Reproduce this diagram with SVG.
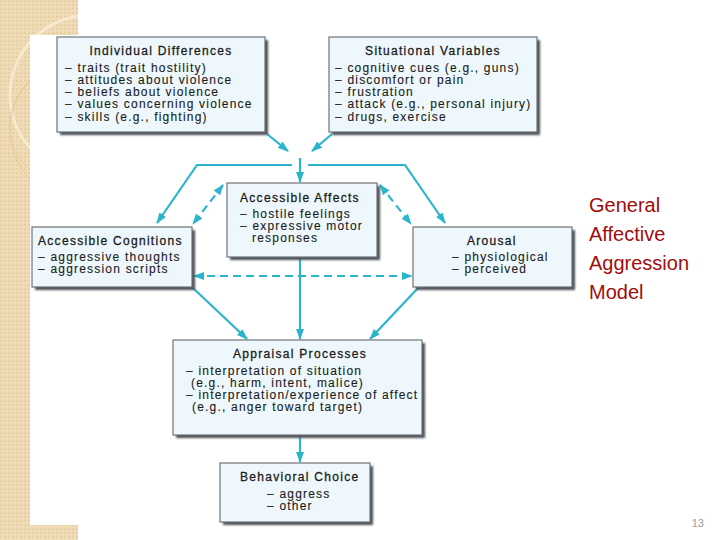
<svg xmlns="http://www.w3.org/2000/svg" width="720" height="540" viewBox="0 0 720 540">
<defs>
<style>
.box{fill:#eef8fc;stroke:#6f7478;stroke-width:1.2}
.sh{fill:#4a4f55;filter:url(#blur)}
.t{font-family:"Liberation Sans",Arial,sans-serif;font-size:12px;letter-spacing:1.2px;fill:#1c1c1c;stroke:#1c1c1c;stroke-width:0.12}
.ttl{font-family:"Liberation Sans",Arial,sans-serif;font-size:12px;letter-spacing:1.3px;fill:#1c1c1c;stroke:#1c1c1c;stroke-width:0.3}
.c{fill:none;stroke:#2ab5cd;stroke-width:2.2}
.d{stroke-dasharray:8 5}
.side{font-family:"Liberation Sans",Arial,sans-serif;font-size:20px;fill:#a00d0d}
</style>
<filter id="blur" x="-10%" y="-10%" width="120%" height="120%"><feGaussianBlur stdDeviation="0.8"/></filter>
<marker id="ah" markerUnits="userSpaceOnUse" markerWidth="11" markerHeight="8" refX="10" refY="4" orient="auto-start-reverse"><path d="M0,0 L11,4 L0,8 z" fill="#2ab5cd"/></marker>
<pattern id="dots" width="4" height="4" patternUnits="userSpaceOnUse"><rect width="4" height="4" fill="#efdcb6"/><rect width="2" height="2" fill="#e6cfa2"/></pattern>
<clipPath id="strip"><rect x="0" y="0" width="78" height="540"/></clipPath>
</defs>
<g id="background">
<rect x="0" y="0" width="720" height="540" fill="#ffffff"/>
<rect x="0" y="0" width="78" height="540" fill="url(#dots)"/>
<g clip-path="url(#strip)">
<circle cx="90" cy="95" r="80" fill="none" stroke="#f6e9d0" stroke-width="3"/>
<circle cx="80" cy="130" r="70" fill="none" stroke="#d9c092" stroke-width="0.6"/>
<circle cx="70" cy="125" r="60" fill="none" stroke="#d9c092" stroke-width="0.4"/>
</g>
<rect x="30" y="35" width="48" height="490" fill="#ffffff"/>
</g>

<g id="connectors">
<path class="c" d="M267,134 L288,151" marker-end="url(#ah)"/>
<path class="c" d="M332,134 L312,151" marker-end="url(#ah)"/>
<path class="c" d="M292,165 L197,165 L157,223" marker-end="url(#ah)"/>
<path class="c" d="M308,165 L405,165 L445,223" marker-end="url(#ah)"/>
<path class="c" d="M300,158 L300,182" marker-end="url(#ah)"/>
<path class="c d" d="M223,185 L193,224" marker-start="url(#ah)" marker-end="url(#ah)"/>
<path class="c d" d="M380,185 L411,224" marker-start="url(#ah)" marker-end="url(#ah)"/>
<path class="c d" d="M194,276 L412,276" marker-start="url(#ah)" marker-end="url(#ah)"/>
<path class="c" d="M300,257 L300,339" marker-end="url(#ah)"/>
<path class="c" d="M193,288 L247,339" marker-end="url(#ah)"/>
<path class="c" d="M418,288 L370,339" marker-end="url(#ah)"/>
<path class="c" d="M300,435 L300,462" marker-end="url(#ah)"/>
</g>

<g id="individual-differences">
<rect class="sh" x="60" y="40" width="208" height="95"/>
<rect class="box" x="57" y="37" width="208" height="95"/>
<text class="ttl" x="161" y="55" text-anchor="middle">Individual Differences</text>
<text class="t" x="65" y="72">– traits (trait hostility)</text>
<text class="t" x="65" y="84">– attitudes about violence</text>
<text class="t" x="65" y="96">– beliefs about violence</text>
<text class="t" x="65" y="108">– values concerning violence</text>
<text class="t" x="65" y="121">– skills (e.g., fighting)</text>
</g>

<g id="situational-variables">
<rect class="sh" x="332" y="40" width="208" height="95"/>
<rect class="box" x="329" y="37" width="208" height="95"/>
<text class="ttl" x="433" y="55" text-anchor="middle">Situational Variables</text>
<text class="t" x="335" y="72">– cognitive cues (e.g., guns)</text>
<text class="t" x="335" y="84">– discomfort or pain</text>
<text class="t" x="335" y="96">– frustration</text>
<text class="t" x="335" y="108">– attack (e.g., personal injury)</text>
<text class="t" x="335" y="121">– drugs, exercise</text>
</g>

<g id="accessible-affects">
<rect class="sh" x="230" y="186" width="150" height="74"/>
<rect class="box" x="227" y="183" width="150" height="74"/>
<text class="ttl" x="240" y="202">Accessible Affects</text>
<text class="t" x="240" y="218">– hostile feelings</text>
<text class="t" x="240" y="230">– expressive motor</text>
<text class="t" x="252" y="242">responses</text>
</g>

<g id="accessible-cognitions">
<rect class="sh" x="35" y="230" width="160" height="60"/>
<rect class="box" x="32" y="227" width="160" height="60"/>
<text class="ttl" x="38" y="245">Accessible Cognitions</text>
<text class="t" x="38" y="261">– aggressive thoughts</text>
<text class="t" x="38" y="273">– aggression scripts</text>
</g>

<g id="arousal">
<rect class="sh" x="416" y="230" width="159" height="60"/>
<rect class="box" x="413" y="227" width="159" height="60"/>
<text class="ttl" x="467" y="245">Arousal</text>
<text class="t" x="452" y="261">– physiological</text>
<text class="t" x="452" y="273">– perceived</text>
</g>

<g id="appraisal-processes">
<rect class="sh" x="176" y="343" width="249" height="95"/>
<rect class="box" x="173" y="340" width="249" height="95"/>
<text class="ttl" x="300" y="358" text-anchor="middle">Appraisal Processes</text>
<text class="t" x="186" y="375">– interpretation of situation</text>
<text class="t" x="191" y="387">(e.g., harm, intent, malice)</text>
<text class="t" x="186" y="399" letter-spacing="0.9">– interpretation/experience of affect</text>
<text class="t" x="192" y="411">(e.g., anger toward target)</text>
</g>

<g id="behavioral-choice">
<rect class="sh" x="223" y="466" width="150" height="59"/>
<rect class="box" x="220" y="463" width="150" height="59"/>
<text class="ttl" x="240" y="481">Behavioral Choice</text>
<text class="t" x="267" y="498">– aggress</text>
<text class="t" x="267" y="510">– other</text>
</g>

<g id="title">
<text class="side" x="589" y="212">General</text>
<text class="side" x="589" y="241">Affective</text>
<text class="side" x="589" y="270">Aggression</text>
<text class="side" x="589" y="299">Model</text>
</g>
<text x="704" y="527" text-anchor="end" font-family="Liberation Sans, Arial, sans-serif" font-size="11" fill="#9a9a9a">13</text>
</svg>
